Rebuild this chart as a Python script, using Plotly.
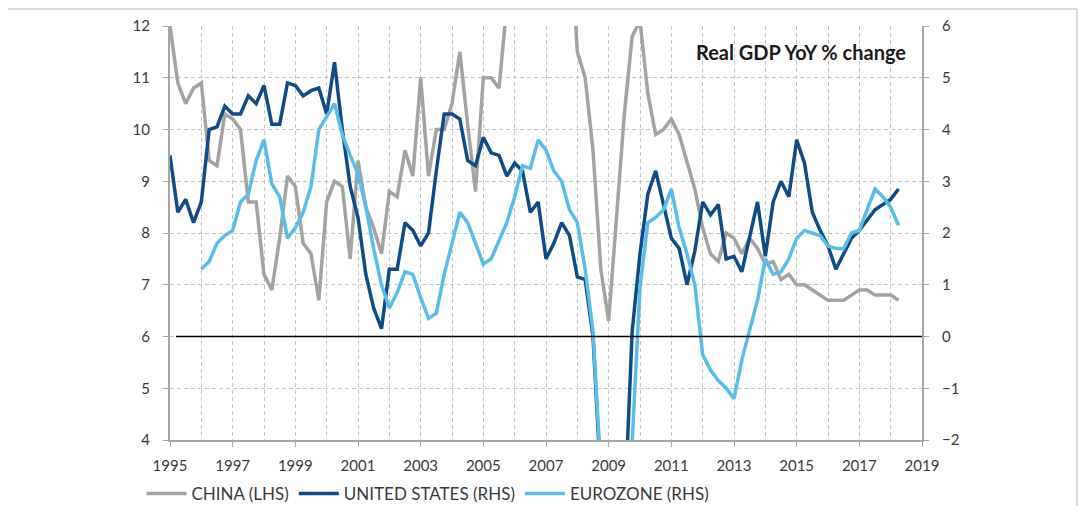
import plotly.graph_objects as go

# Quarterly data, 1995Q1 .. 2018Q2
start_year = 1995
china_lhs = [12.0, 10.9, 10.5, 10.8, 10.9, 9.4, 9.3, 10.3, 10.2, 10.0,
             8.6, 8.6, 7.2, 6.9, 7.9, 9.1, 8.9, 7.8, 7.6, 6.7,
             8.6, 9.0, 8.9, 7.5, 9.4, 8.5, 8.1, 7.6, 8.8, 8.7,
             9.6, 9.1, 11.0, 9.1, 10.0, 10.0, 10.5, 11.5, 10.1, 8.8,
             11.0, 11.0, 10.8, 12.4, 12.7, 13.1, 12.9, 12.9, 13.8, 14.2,
             14.0, 14.0, 11.5, 11.0, 9.6, 7.3, 6.3, 8.2, 10.3, 11.8,
             12.1, 10.7, 9.9, 10.0, 10.2, 9.9, 9.4, 8.85, 8.1, 7.6,
             7.45, 8.0, 7.9, 7.6, 7.9, 7.7, 7.4, 7.45, 7.1, 7.2,
             7.0, 7.0, 6.9, 6.8, 6.7, 6.7, 6.7, 6.8, 6.9, 6.9,
             6.8, 6.8, 6.8, 6.7]
us_rhs = [3.5, 2.4, 2.65, 2.2, 2.6, 4.0, 4.05, 4.45, 4.3, 4.3,
          4.65, 4.5, 4.85, 4.1, 4.1, 4.9, 4.85, 4.65, 4.75, 4.8,
          4.3, 5.3, 4.0, 2.9, 2.3, 1.2, 0.55, 0.15, 1.3, 1.3,
          2.2, 2.05, 1.75, 2.0, 3.2, 4.3, 4.3, 4.2, 3.4, 3.3,
          3.85, 3.55, 3.5, 3.1, 3.35, 3.2, 2.4, 2.6, 1.5, 1.8,
          2.2, 1.95, 1.15, 1.1, 0.0, -2.8, -3.3, -4.0, -3.5, 0.1,
          1.6, 2.75, 3.2, 2.55, 1.9, 1.7, 1.0, 1.65, 2.6, 2.35,
          2.55, 1.5, 1.55, 1.25, 1.95, 2.6, 1.55, 2.6, 3.0, 2.7,
          3.8, 3.35, 2.4, 2.05, 1.75, 1.3, 1.6, 1.9, 2.05, 2.25,
          2.45, 2.55, 2.65, 2.85]
ez_rhs = [None, None, None, None, 1.3, 1.45, 1.8, 1.95, 2.05, 2.6,
          2.75, 3.4, 3.8, 2.95, 2.7, 1.9, 2.1, 2.4, 2.9, 4.0,
          4.25, 4.5, 3.9, 3.5, 3.15, 2.5, 1.7, 1.0, 0.55, 0.85,
          1.25, 1.2, 0.75, 0.35, 0.45, 1.2, 1.8, 2.4, 2.2, 1.8,
          1.4, 1.5, 1.85, 2.2, 2.7, 3.3, 3.25, 3.8, 3.6, 3.2,
          3.0, 2.45, 2.2, 1.3, 0.1, -2.05, -5.3, -5.3, -4.4, -2.05,
          0.95, 2.2, 2.3, 2.45, 2.85, 2.1, 1.6, 1.0, -0.35, -0.65,
          -0.85, -1.0, -1.2, -0.45, 0.1, 0.7, 1.5, 1.2, 1.25, 1.5,
          1.9, 2.05, 2.0, 1.95, 1.75, 1.7, 1.7, 2.0, 2.05, 2.45,
          2.85, 2.7, 2.5, 2.15]
x_tick_years = list(range(1995, 2020, 2))

dates = [start_year + i / 4 for i in range(len(china_lhs))]

GRAY = "#a3a3a3"
DARK = "#0f4c87"
LIGHT = "#58bde9"
FONT = "Lato"
TXT = "#3a3a3a"
GRID = "#c4c4c4"

fig = go.Figure()
fig.add_trace(go.Scatter(x=dates, y=china_lhs, name="CHINA (LHS)", mode="lines",
                         line=dict(color=GRAY, width=3.5), yaxis="y"))
fig.add_trace(go.Scatter(x=dates, y=us_rhs, name="UNITED STATES (RHS)", mode="lines",
                         line=dict(color=DARK, width=3.5), yaxis="y2"))
fig.add_trace(go.Scatter(x=dates, y=ez_rhs, name="EUROZONE (RHS)", mode="lines",
                         line=dict(color=LIGHT, width=3.5), yaxis="y2"))

grid = dict(showgrid=True, gridcolor=GRID, griddash="4px,3px", gridwidth=1)

fig.update_layout(
    width=1070, height=506,
    margin=dict(l=161.5, r=156, t=18, b=74, autoexpand=False),
    paper_bgcolor="white", plot_bgcolor="white",
    font=dict(family=FONT, size=15, color=TXT),
    showlegend=True,
    legend=dict(orientation="h", x=-0.038, xanchor="left", y=-0.1304, yanchor="middle",
                font=dict(family=FONT, size=17, color=TXT), itemwidth=40,
                bgcolor="rgba(0,0,0,0)", tracegroupgap=0),
    xaxis=dict(range=[1995, 2019], tickvals=x_tick_years, ticktext=[str(y) for y in x_tick_years],
               showline=True, linecolor="#a6a6a6", linewidth=2, mirror=False,
               ticks="outside", ticklen=5, tickcolor="#a6a6a6", automargin=False,
               minor=dict(dtick=1, tick0=1995, showgrid=True, gridcolor=GRID,
                          griddash="4px,3px", gridwidth=1),
               zeroline=False, ticklabelstandoff=6, **grid),
    yaxis=dict(range=[4, 12], dtick=1, showline=True, linecolor="#a6a6a6", linewidth=2,
               ticks="outside", ticklen=5, tickcolor="#a6a6a6", zeroline=False,
               automargin=False, ticklabelstandoff=10, **grid),
    yaxis2=dict(range=[-2, 6], dtick=1, overlaying="y", side="right", showgrid=False,
                showline=True, linecolor="#a6a6a6", linewidth=2, ticks="outside", ticklen=5,
                tickcolor="#a6a6a6", zeroline=False, automargin=False, ticklabelstandoff=10),
    annotations=[dict(text="<b>Real GDP YoY % change</b>", xref="paper", yref="paper",
                      x=0.9814, y=0.937, xanchor="right", yanchor="middle", showarrow=False,
                      font=dict(family=FONT, size=20, color="#1a1a1a"))],
    shapes=[
        dict(type="line", xref="paper", yref="y2", x0=0.008, x1=1, y0=0, y1=0,
             line=dict(color="black", width=1.5)),
        dict(type="line", xref="paper", yref="paper", x0=-0.215, x1=1.206, y0=1.041, y1=1.041,
             line=dict(color="#d9d9d9", width=2)),
        dict(type="line", xref="paper", yref="paper", x0=1.206, x1=1.206, y0=1.041, y1=-0.2,
             line=dict(color="#d9d9d9", width=2)),
    ],
)

fig.write_html("out.html")
